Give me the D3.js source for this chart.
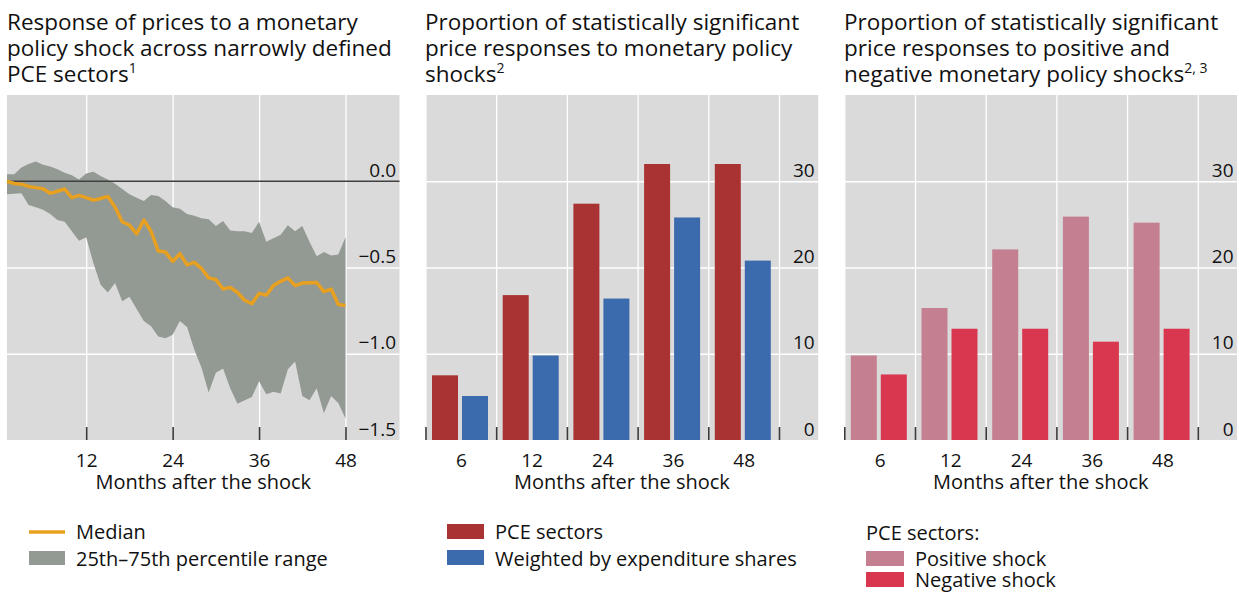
<!DOCTYPE html>
<html>
<head>
<meta charset="utf-8">
<script src="https://cdn.jsdelivr.net/npm/d3@7"></script>
<style>
  body { margin: 0; background: #fff; }
  svg { display: block; font-family: "Open Sans", sans-serif; }
  .grid line { stroke: #fff; stroke-width: 1.3; }
  .grid path, .axis path { display: none; }
</style>
</head>
<body>
<svg id="chart" width="1239" height="593"></svg>
<script>
// ---- data ----
const months = [1, 2, 3, 4, 5, 6, 7, 8, 9, 10, 11, 12, 13, 14, 15, 16, 17, 18, 19, 20, 21, 22, 23, 24,
  25, 26, 27, 28, 29, 30, 31, 32, 33, 34, 35, 36, 37, 38, 39, 40, 41, 42, 43, 44, 45, 46, 47, 48];
const p75 = [0.04, 0.04, 0.08, 0.10, 0.115, 0.095, 0.085, 0.07, 0.05, 0.035, 0.01, 0.045,
  0.055, 0.03, 0.01, -0.015, -0.045, -0.075, -0.095, -0.115, -0.08, -0.085, -0.115, -0.15,
  -0.16, -0.19, -0.20, -0.215, -0.22, -0.26, -0.23, -0.285, -0.29, -0.29, -0.30, -0.235,
  -0.35, -0.33, -0.31, -0.255, -0.29, -0.26, -0.35, -0.435, -0.41, -0.43, -0.425, -0.325];
const p25 = [-0.075, -0.073, -0.07, -0.138, -0.15, -0.165, -0.19, -0.225, -0.235, -0.29, -0.345, -0.325,
  -0.475, -0.60, -0.645, -0.59, -0.695, -0.67, -0.74, -0.81, -0.84, -0.90, -0.91, -0.89,
  -0.81, -0.845, -0.975, -1.08, -1.225, -1.11, -1.085, -1.20, -1.29, -1.27, -1.25, -1.16,
  -1.235, -1.22, -1.23, -1.09, -1.045, -1.245, -1.27, -1.20, -1.345, -1.245, -1.285, -1.375];
const median = [0.0, -0.013, -0.017, -0.03, -0.037, -0.043, -0.07, -0.058, -0.045, -0.095, -0.082, -0.095,
  -0.11, -0.10, -0.088, -0.15, -0.235, -0.255, -0.305, -0.225, -0.29, -0.405, -0.41, -0.465,
  -0.42, -0.485, -0.47, -0.505, -0.56, -0.57, -0.625, -0.615, -0.645, -0.69, -0.71, -0.65,
  -0.66, -0.605, -0.58, -0.56, -0.605, -0.59, -0.588, -0.587, -0.64, -0.625, -0.715, -0.72];
const monthTicks = [12, 24, 36, 48];
const responseTicks = [0, -0.5, -1.0, -1.5];

const horizons = ["6", "12", "24", "36", "48"];
const pceSectors = [7.5, 16.8, 27.4, 32.0, 32.0];
const weightedShares = [5.1, 9.8, 16.4, 25.8, 20.8];
const positiveShock = [9.8, 15.3, 22.1, 25.9, 25.2];
const negativeShock = [7.6, 12.9, 12.9, 11.4, 12.9];
const shareTicks = [0, 10, 20, 30];

// ---- layout ----
const svg = d3.select("#chart");
const plotTop = 95, plotBottom = 440, plotW = 392.5;
const bgColor = "#dadada";
const tickColor = "#3a3a3a";

const fmtResp = d => d === 0 ? "0.0" : d3.format(".1f")(d).replace("-", "\u2212");

function title(x, lines, sup) {
  const t = svg.append("text").attr("x", x).attr("y", 30)
    .attr("font-size", 22.5).attr("fill", "#111");
  lines.forEach((l, i) => {
    t.append("tspan").attr("x", x).attr("y", 30 + i * 25.8).text(l);
  });
  t.append("tspan").attr("font-size", 14).attr("dy", -9).text(sup);
}

function xTitle(cx) {
  svg.append("text").attr("x", cx).attr("y", 489).attr("text-anchor", "middle")
    .attr("font-size", 20).attr("fill", "#111").text("Months after the shock");
}

function rightLabels(g, yScale, ticks, right, fmt) {
  g.append("g").attr("class", "axis")
    .attr("transform", "translate(" + (right - 3.5) + ",0)")
    .call(d3.axisRight(yScale).tickValues(ticks).tickSize(0).tickFormat(fmt))
    .selectAll("text")
    .attr("x", 0).attr("dy", -5)
    .attr("text-anchor", "end")
    .attr("font-size", 19).attr("font-family", "Open Sans").attr("fill", "#111");
}

// ================= panel 1 : line + band =================
(function () {
  const left = 7, right = left + plotW;
  const x = d3.scaleLinear().domain([1, 55.5]).range([left, right]);
  const y = d3.scaleLinear().domain([-1.5, 0.5]).range([plotBottom, plotTop]);
  const g = svg.append("g");

  g.append("rect").attr("x", left).attr("y", plotTop).attr("width", plotW).attr("height", plotBottom - plotTop)
    .attr("fill", bgColor);

  g.append("g").attr("class", "grid")
    .attr("transform", "translate(0," + plotBottom + ")")
    .call(d3.axisBottom(x).tickValues(monthTicks).tickSize(-(plotBottom - plotTop)).tickFormat(""));
  g.append("g").attr("class", "grid")
    .attr("transform", "translate(" + left + ",0)")
    .call(d3.axisLeft(y).tickValues([-0.5, -1.0]).tickSize(-plotW).tickFormat(""));

  const rows = months.map((m, i) => ({ m: m, lo: p25[i], hi: p75[i], med: median[i] }));

  g.append("path").datum(rows)
    .attr("fill", "#939993")
    .attr("d", d3.area().x(d => x(d.m)).y0(d => y(d.lo)).y1(d => y(d.hi)));

  g.append("line")
    .attr("x1", left).attr("x2", right).attr("y1", y(0)).attr("y2", y(0))
    .attr("stroke", "#404040").attr("stroke-width", 1.5);

  g.append("path").datum(rows)
    .attr("fill", "none").attr("stroke", "#e8a020").attr("stroke-width", 3.5)
    .attr("stroke-linejoin", "round")
    .attr("d", d3.line().x(d => x(d.m)).y(d => y(d.med)));

  const xa = g.append("g").attr("class", "axis")
    .attr("transform", "translate(0," + plotBottom + ")")
    .call(d3.axisBottom(x).tickValues(monthTicks).tickSizeInner(-13).tickSizeOuter(0).tickPadding(13.5));
  xa.selectAll("line").attr("stroke", tickColor).attr("stroke-width", 1.6);
  xa.selectAll("text").attr("font-size", 19).attr("font-family", "Open Sans").attr("fill", "#111");

  rightLabels(g, y, responseTicks, right, fmtResp);

  title(7, ["Response of prices to a monetary", "policy shock across narrowly defined", "PCE sectors"], "1");
  xTitle((left + right) / 2);

  // legend
  g.append("line").attr("x1", 29).attr("x2", 65).attr("y1", 532).attr("y2", 532)
    .attr("stroke", "#e8a020").attr("stroke-width", 3.5);
  g.append("rect").attr("x", 29).attr("y", 551).attr("width", 36).attr("height", 14).attr("fill", "#939993");
  g.append("text").attr("x", 76).attr("y", 539).attr("font-size", 20).attr("fill", "#111").text("Median");
  g.append("text").attr("x", 76).attr("y", 566).attr("font-size", 20).attr("fill", "#111")
    .text("25th\u201375th percentile range");
})();

// ================= bar panels =================
function barPanel(left, seriesA, seriesB, colA, colB) {
  const right = left + plotW;
  const x0 = d3.scaleBand().domain(horizons).range([left + 0.3, left + 0.3 + 5 * 70.7]);
  const x1 = d3.scaleBand().domain(["a", "b"]).range([6, 62]).paddingInner(0.133);
  const y = d3.scaleLinear().domain([0, 40]).range([plotBottom, plotTop]);
  const g = svg.append("g");

  g.append("rect").attr("x", left).attr("y", plotTop).attr("width", plotW).attr("height", plotBottom - plotTop)
    .attr("fill", bgColor);

  const bounds = horizons.map(h => x0(h)).concat([x0.range()[1]]);
  g.append("g").attr("class", "grid")
    .selectAll("line").data(bounds).join("line")
    .attr("x1", d => d).attr("x2", d => d).attr("y1", plotTop).attr("y2", plotBottom);
  g.append("g").attr("class", "grid")
    .attr("transform", "translate(" + left + ",0)")
    .call(d3.axisLeft(y).tickValues([10, 20, 30]).tickSize(-plotW).tickFormat(""));

  const rows = horizons.map((h, i) => ({ h: h, a: seriesA[i], b: seriesB[i] }));
  const grp = g.append("g").selectAll("g").data(rows).join("g")
    .attr("transform", d => "translate(" + x0(d.h) + ",0)");
  grp.append("rect").attr("x", x1("a")).attr("width", x1.bandwidth())
    .attr("y", d => y(d.a)).attr("height", d => y(0) - y(d.a)).attr("fill", colA);
  grp.append("rect").attr("x", x1("b")).attr("width", x1.bandwidth())
    .attr("y", d => y(d.b)).attr("height", d => y(0) - y(d.b)).attr("fill", colB);

  // boundary tick marks
  g.append("g").selectAll("line").data(bounds).join("line")
    .attr("x1", d => d).attr("x2", d => d).attr("y1", plotBottom - 13).attr("y2", plotBottom)
    .attr("stroke", tickColor).attr("stroke-width", 1.6);

  const xa = g.append("g").attr("class", "axis")
    .attr("transform", "translate(0," + plotBottom + ")")
    .call(d3.axisBottom(x0).tickSize(0).tickPadding(13.5));
  xa.selectAll("text").attr("font-size", 19).attr("font-family", "Open Sans").attr("fill", "#111");

  rightLabels(g, y, shareTicks, right, d3.format("d"));
  xTitle((left + right) / 2);
  return g;
}

const g2 = barPanel(425.7, pceSectors, weightedShares, "#a93232", "#3b6aad");
title(425, ["Proportion of statistically significant", "price responses to monetary policy", "shocks"], "2");
g2.append("rect").attr("x", 447).attr("y", 524).attr("width", 37).attr("height", 15).attr("fill", "#a93232");
g2.append("rect").attr("x", 447).attr("y", 550).attr("width", 37).attr("height", 15).attr("fill", "#3b6aad");
g2.append("text").attr("x", 495).attr("y", 539).attr("font-size", 20).attr("fill", "#111").text("PCE sectors");
g2.append("text").attr("x", 495).attr("y", 566).attr("font-size", 20).attr("fill", "#111")
  .text("Weighted by expenditure shares");

const g3 = barPanel(844.5, positiveShock, negativeShock, "#c48090", "#d9374f");
title(844, ["Proportion of statistically significant", "price responses to positive and", "negative monetary policy shocks"], "2, 3");
g3.append("text").attr("x", 866).attr("y", 540).attr("font-size", 20).attr("fill", "#111").text("PCE sectors:");
g3.append("rect").attr("x", 866).attr("y", 551).attr("width", 38).attr("height", 15).attr("fill", "#c48090");
g3.append("rect").attr("x", 866).attr("y", 572).attr("width", 38).attr("height", 15).attr("fill", "#d9374f");
g3.append("text").attr("x", 915).attr("y", 566).attr("font-size", 20).attr("fill", "#111").text("Positive shock");
g3.append("text").attr("x", 915).attr("y", 587).attr("font-size", 20).attr("fill", "#111").text("Negative shock");
</script>
</body>
</html>
